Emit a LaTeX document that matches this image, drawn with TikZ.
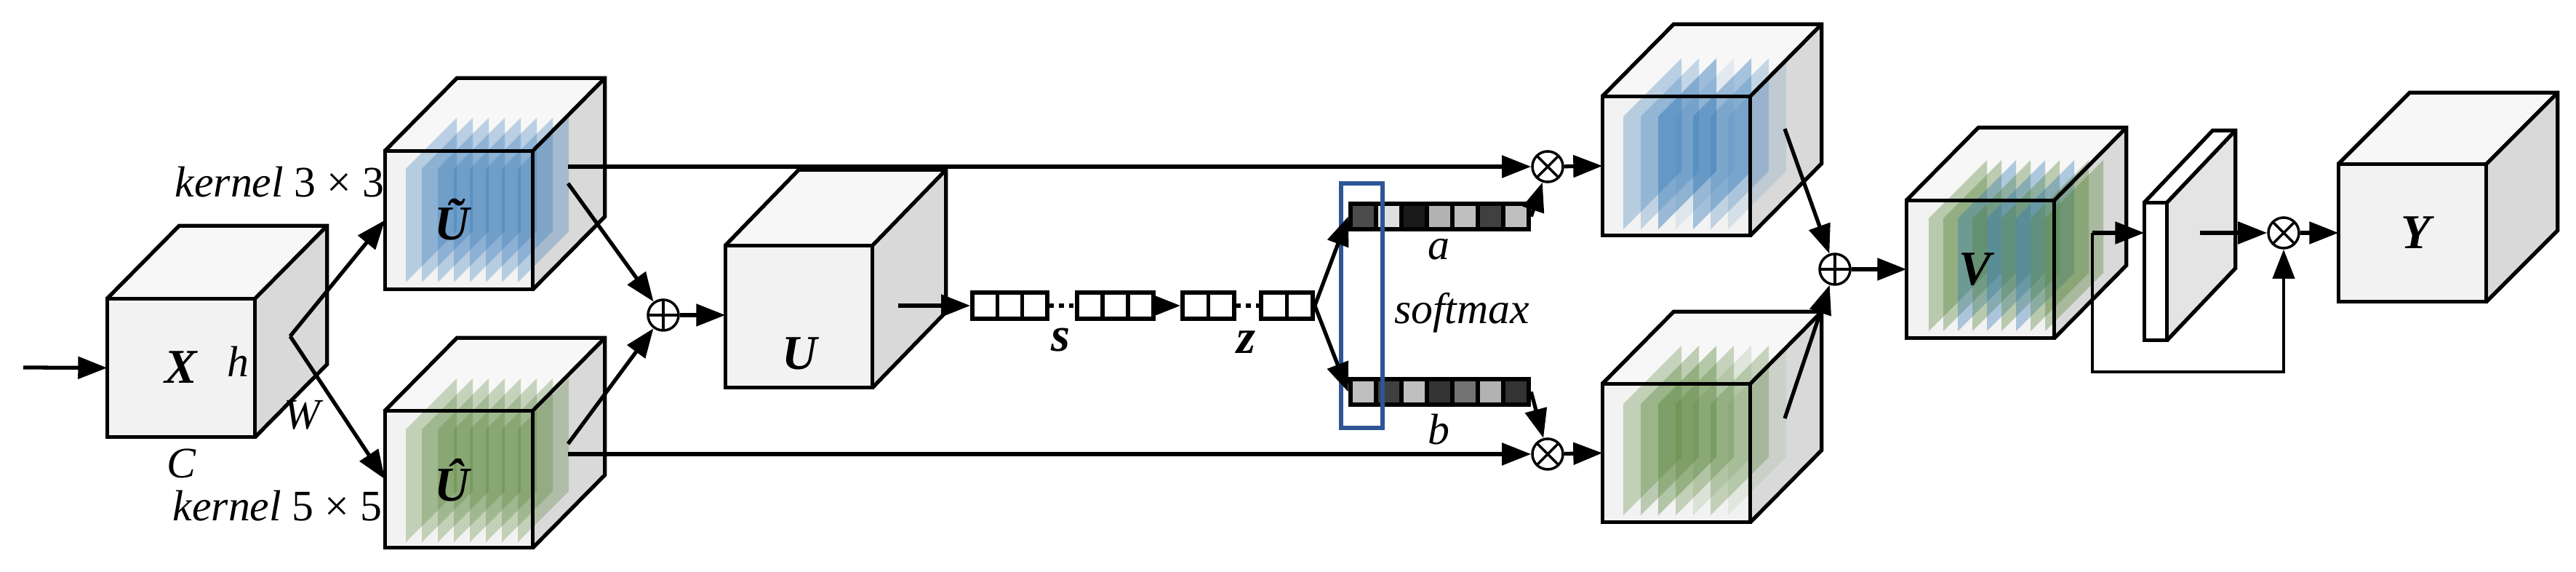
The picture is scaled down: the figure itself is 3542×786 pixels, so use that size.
\documentclass[tikz,border=0pt]{standalone}
\usepackage{fontspec}
\setmainfont{Liberation Serif}
\usetikzlibrary{arrows.meta,calc}
\definecolor{cfront}{HTML}{F2F2F2}
\definecolor{ctop}{HTML}{F7F7F7}
\definecolor{cside}{HTML}{D9D9D9}
\definecolor{blu}{HTML}{2E75B6}
\definecolor{grn}{HTML}{548235}
\definecolor{sbox}{HTML}{2F5597}
\newcommand\cubefill[3]{%
 \fill[cfront] (#1.north west) rectangle (#1.south east);
 \fill[ctop] (#1.north west) -- (#1.north east) -- ([shift={(#2,#3)}]#1.north east) -- ([shift={(#2,#3)}]#1.north west) -- cycle;
 \fill[cside] (#1.north east) -- ([shift={(#2,#3)}]#1.north east) -- ([shift={(#2,#3)}]#1.south east) -- (#1.south east) -- cycle;}
\newcommand\cubeline[3]{%
 \draw (#1.south west) rectangle (#1.north east);
 \draw (#1.north west) -- ([shift={(#2,#3)}]#1.north west) -- ([shift={(#2,#3)}]#1.north east) -- ([shift={(#2,#3)}]#1.south east) -- (#1.south east);
 \draw (#1.north east) -- ([shift={(#2,#3)}]#1.north east);}
\newcommand\slab[5]{\fill[#5] (#1,#3) -- (#1,#2) -- (#1+#4,#2-#4) -- (#1+#4,#3-#4) -- cycle;}
\begin{document}
\begin{tikzpicture}[x=0.01cm,y=-0.01cm,line width=1.5pt,
 arr/.style={-{Triangle[length=0.4cm,width=0.3cm]}},
 front/.style={rectangle,inner sep=0,minimum width=1.98cm,minimum height=1.85cm},
 lab/.style={font=\fontsize{17}{20}\selectfont\itshape,inner sep=0},
 blab/.style={font=\fontsize{19}{22}\selectfont\bfseries\itshape,inner sep=0},
 vec/.style={draw,inner sep=0,minimum height=0.36cm,line width=1.6pt},
 bar/.style={draw,inner sep=0,minimum width=2.45cm,minimum height=0.35cm,line width=1.8pt},
 plusop/.style={circle,draw,inner sep=0,minimum size=0.42cm,line width=1pt,
   path picture={\draw[line width=1pt] (path picture bounding box.north) -- (path picture bounding box.south)
     (path picture bounding box.west) -- (path picture bounding box.east);}},
 timesop/.style={circle,draw,inner sep=0,minimum size=0.42cm,line width=1pt,
   path picture={\draw[line width=1pt] (path picture bounding box.north west) -- (path picture bounding box.south east)
     (path picture bounding box.south west) -- (path picture bounding box.north east);}}]
\useasboundingbox (0,0) rectangle (3542,786);

% ---- cube nodes ----
\node[front] (X) at (249,505.5) {};
\node[front] (Ut) at (631,302.5) {};
\node[front,minimum height=1.83cm] (Uh) at (631,658.5) {};
\node[front,minimum width=1.97cm,minimum height=1.9cm] (U) at (1098.5,435) {};
\node[front,minimum height=1.86cm] (OB) at (2305,228) {};
\node[front] (OG) at (2305,622.5) {};
\node[front,minimum height=1.84cm] (V) at (2723,370) {};
\node[front,minimum height=1.84cm] (Y) at (3317,320) {};
\node[rectangle,inner sep=0,minimum width=0.26cm,minimum height=1.84cm] (P) at (2964,373) {};

\cubefill{X}{99}{-100}
\cubefill{Ut}{99}{-100}
\cubefill{Uh}{99}{-100}
\cubefill{U}{101}{-104}
\cubefill{OB}{98}{-99}
\cubefill{OG}{98}{-99}
\cubefill{V}{99}{-100}
\cubefill{Y}{98}{-98}
\fill[white] (P.north west) rectangle (P.south east);
\fill[white] (P.north west) -- (P.north east) -- ([shift={(94,-99)}]P.north east) -- ([shift={(94,-99)}]P.north west) -- cycle;
\fill[cside!70] (P.north east) -- ([shift={(94,-99)}]P.north east) -- ([shift={(94,-99)}]P.south east) -- (P.south east) -- cycle;

% ---- slices ----
\foreach \i in {0,...,7} {\slab{558+22*\i}{232}{388}{70}{blu,opacity=.3}}
\foreach \i in {0,...,7} {\slab{558+22*\i}{590}{745}{70}{grn,opacity=.3}}
\foreach \i/\o in {0/.3,1/.25,2/.45,3/.1,4/.4,5/.25,6/.15} {\slab{2232+24*\i}{160}{315}{80}{blu,opacity=\o}}
\foreach \i/\o in {0/.3,1/.35,2/.4,3/.3,4/.15,5/.3,6/.1} {\slab{2232+24*\i}{555}{708}{80}{grn,opacity=\o}}
\foreach \i/\c in {0/grn,1/grn,2/blu,3/grn,4/blu,5/grn,6/blu,7/grn,8/grn} {\slab{2652+20*\i}{300}{455}{80}{\c,opacity=.36}}

\cubeline{X}{99}{-100}
\cubeline{Ut}{99}{-100}
\cubeline{Uh}{99}{-100}
\cubeline{U}{101}{-104}
\cubeline{OB}{98}{-99}
\cubeline{OG}{98}{-99}
\cubeline{V}{99}{-100}
\cubeline{Y}{98}{-98}
\cubeline{P}{94}{-99}

% ---- labels ----
\node[blab] (Xl) at (249,505) {X};
\node[lab] (hl) at (327,497) {h};
\node[lab] (Wl) at (415,570) {W};
\node[lab] (Cl) at (249,637) {C};
\node[lab,anchor=east] (k3) at (531,250) {kernel\/ \upshape 3 × 3};
\node[lab,anchor=east] (k5) at (528,695) {kernel\/ \upshape 5 × 5};
\node[blab] (Utl) at (622,302) {Ũ};
\node[blab] (Uhl) at (622,660) {Û};
\node[blab] (Ul) at (1100,486) {U};
\node[blab] (Vl) at (2716,370) {V};
\node[blab] (Yl) at (3322,320) {Y};
\node[blab] (sl) at (1458,467) {s};
\node[blab] (zl) at (1713,470) {z};
\node[lab] (al) at (1978,343) {a};
\node[lab] (bl) at (1978,590) {b};
\node[lab] (sml) at (2010,430) {softmax};

% ---- vectors ----
\foreach \k in {0,1,2} {\draw[line width=1.6pt] (1337+34.3*\k,402) rectangle ++(34.3,36);}
\node[vec,minimum width=1.03cm] (s1) at (1388.5,420) {};
\foreach \k in {0,1,2} {\draw[line width=1.6pt] (1481+35*\k,402) rectangle ++(35,36);}
\node[vec,minimum width=1.05cm] (s2) at (1533.5,420) {};
\draw[line width=1.6pt] (1661.5,402) -- (1661.5,438);
\node[vec,minimum width=0.71cm] (z1) at (1661.5,420) {};
\draw[line width=1.6pt] (1769.5,402) -- (1769.5,438);
\node[vec,minimum width=0.71cm] (z2) at (1769.5,420) {};
\draw[dotted,line width=1.8pt] (s1.east) -- (s2.west);
\draw[dotted,line width=1.8pt] (z1.east) -- (z2.west);

\foreach \k/\g in {0/70,1/12,2/90,3/30,4/25,5/75,6/25} {\filldraw[fill=black!\g,line width=1.6pt] (1857+35*\k,280) rectangle ++(35,35);}
\node[bar] (a) at (1979.5,297.5) {};
\foreach \k/\g in {0/25,1/75,2/25,3/80,4/55,5/30,6/80} {\filldraw[fill=black!\g,line width=1.6pt] (1857+35*\k,521) rectangle ++(35,35);}
\node[bar] (b) at (1979.5,538.5) {};
\node[draw=sbox,line width=1.5pt,inner sep=0,minimum width=0.57cm,minimum height=3.36cm] (sm) at (1872.5,420) {};

% ---- operators ----
\node[plusop] (p1) at (912,433) {};
\node[timesop] (t1) at (2128,229) {};
\node[timesop] (t2) at (2128,624) {};
\node[plusop] (p2) at (2523,370) {};
\node[timesop] (t3) at (3140,320) {};

% ---- coordinates ----
\coordinate (in) at (32,505);
\coordinate (sp) at (399,462);
\coordinate (ut1) at (781,229);
\coordinate (ut2) at (781,252);
\coordinate (uh1) at (781,610);
\coordinate (uh2) at (781,624);
\coordinate (uo) at (1235,420);
\coordinate (ob) at (2454,177);
\coordinate (og) at (2454,575);
\coordinate (k1) at (2877,320);
\coordinate (kb) at (3140,511);
\coordinate (po) at (3025,320);

% ---- connectors ----
\draw[arr] (in) -- (X.west);
\draw[arr] (sp) -- (Ut.west);
\draw[arr] (sp) -- (Uh.west);
\draw[arr] (ut1) -- (t1);
\draw[arr] (uh2) -- (t2);
\draw[arr] (ut2) -- (p1);
\draw[arr] (uh1) -- (p1);
\draw[arr] (p1) -- (p1 -| U.west);
\draw[arr] (uo) -- (s1.west);
\draw[arr] (s2.east) -- (z1.west);
\draw[arr] (z2.east) -- (a.west);
\draw[arr] (z2.east) -- (b.west);
\draw[arr] (a.east) -- (t1);
\draw[arr] (b.east) -- (t2);
\draw[arr] (t1) -- (OB.west);
\draw[arr] (t2) -- (OG.west);
\draw[arr] (ob) -- (p2);
\draw[arr] (og) -- (p2);
\draw[arr] (p2) -- (V.west);
\draw[arr] (k1) -- (k1 -| P.west);
\draw[arr,line width=1.2pt] (k1) |- (kb) -- (t3);
\draw[arr] (po) -- (t3);
\draw[arr] (t3) -- (Y.west);
\end{tikzpicture}
\end{document}
